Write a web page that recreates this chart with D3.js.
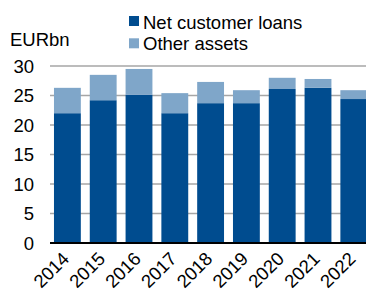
<!DOCTYPE html>
<html><head><meta charset="utf-8">
<script src="https://cdn.jsdelivr.net/npm/d3@7"></script>
<style>body{margin:0;background:#fff}svg{display:block;font-family:"Liberation Sans",Arial,sans-serif}</style>
</head><body>
<svg id="c" width="366" height="291"></svg>
<script>
const years = ["2014","2015","2016","2017","2018","2019","2020","2021","2022"];
const netCustomerLoans = [22.0,24.2,25.1,22.0,23.7,23.7,26.1,26.3,24.4];
const otherAssets = [4.3,4.3,4.4,3.4,3.6,2.2,1.9,1.5,1.5];
const yTicks = [0,5,10,15,20,25,30];
const seriesNames = ["Net customer loans","Other assets"];
const colors = ["#004C8F","#7FA6C9"];

const svg = d3.select("#c");
const x = d3.scaleBand().domain(years).range([49.5,371.7]).paddingInner(0.25).paddingOuter(0.125);
const y = d3.scaleLinear().domain([0,30]).range([243,66]);
const fs = 18.5;

// gridlines
svg.append("g").selectAll("line").data(yTicks.filter(d=>d>0)).join("line")
  .attr("x1",50).attr("x2",366).attr("y1",d=>y(d)).attr("y2",d=>y(d))
  .attr("stroke","#A6A6A6").attr("stroke-width",1.5);

// y tick labels
svg.append("g").selectAll("text").data(yTicks).join("text")
  .attr("x",34).attr("y",d=>y(d)).attr("dy","0.36em").attr("text-anchor","end")
  .attr("font-size",fs).attr("fill","#000").text(d=>d);

const stack = d3.stack().keys([0,1]).value((d,k)=>k===0?d.loans:d.other);
const rows = years.map((yr,i)=>({year:yr,loans:netCustomerLoans[i],other:otherAssets[i]}));
const layers = stack(rows);
svg.append("g").selectAll("g").data(layers).join("g").attr("fill",(d,i)=>colors[i])
  .selectAll("rect").data(d=>d).join("rect")
  .attr("x",d=>x(d.data.year)).attr("width",x.bandwidth())
  .attr("y",d=>y(d[1])).attr("height",d=>y(d[0])-y(d[1]));

// baseline
svg.append("line").attr("x1",50).attr("x2",366).attr("y1",y(0)).attr("y2",y(0))
  .attr("stroke","#000").attr("stroke-width",2);

// x labels
svg.append("g").selectAll("text").data(years).join("text")
  .attr("transform",d=>`translate(${x(d)+x.bandwidth()/2+3},${260}) rotate(-45)`)
  .attr("text-anchor","end").attr("font-size",fs).attr("fill","#000").text(d=>d);

// unit label
svg.append("text").attr("x",10).attr("y",46).attr("font-size",fs).text("EURbn");

// legend
const lg = svg.append("g");
seriesNames.forEach((n,i)=>{
  lg.append("rect").attr("x",129).attr("y",16+i*22.3).attr("width",10).attr("height",10).attr("fill",colors[i]);
  lg.append("text").attr("x",143).attr("y",28.5+i*21.3).attr("font-size",fs).text(n);
});
</script>
</body></html>
